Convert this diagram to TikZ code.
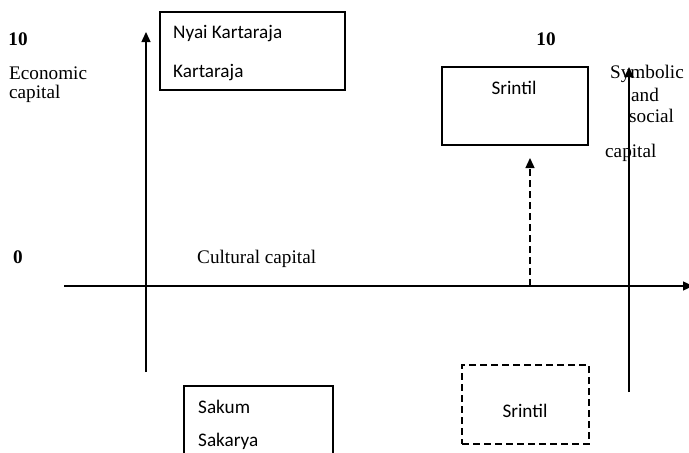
\documentclass[tikz,border=0pt]{standalone}
\usepackage{fontspec}
\setmainfont{Liberation Serif}
\newfontfamily\boxfont{Carlito}
\usetikzlibrary{arrows.meta}
\begin{document}
\begin{tikzpicture}[x=1pt,y=-1pt,
  txt/.style={font=\fontsize{19.2}{23}\selectfont, inner sep=0pt},
  boldtxt/.style={font=\fontsize{19.2}{23}\selectfont\bfseries, inner sep=0pt},
  sans/.style={font=\fontsize{19.2}{23}\selectfont\boxfont, inner sep=0pt},
  axis/.style={line width=1.3pt, -{Triangle[length=10pt,width=9pt]}},
  plainbox/.style={draw, line width=1.2pt, inner sep=0pt},
  dashbox/.style={draw, line width=1.3pt, dash pattern=on 7pt off 4pt, inner sep=0pt},
  dasharrow/.style={line width=1.3pt, dash pattern=on 7pt off 4pt, -{Triangle[length=10pt,width=9pt]}}
]
\useasboundingbox (0,0) rectangle (689,453);
\clip (0,0) rectangle (689,453);

% axes
\coordinate (cultS) at (64,286);
\coordinate (cultE) at (693,286);
\draw[axis] (cultS) -- (cultE);
\coordinate (ecoS) at (146,372);
\coordinate (ecoE) at (146,32);
\draw[axis] (ecoS) -- (ecoE);
\coordinate (symS) at (629,392);
\coordinate (symE) at (629,67);
\draw[axis] (symS) -- (symE);

% axis labels
\node[boldtxt, anchor=base] (ten1) at (18,45) {10};
\node[txt, anchor=base west] (eco1) at (9,79) {Economic};
\node[txt, anchor=base west] (eco2) at (9,98) {capital};
\node[boldtxt, anchor=base] (ten2) at (546,45) {10};
\node[boldtxt, anchor=base] (zero) at (18,263) {0};
\node[txt, anchor=base west] (cult) at (197,263) {Cultural capital};
\node[txt, anchor=base west] (sym1) at (610,78) {Symbolic};
\node[txt, anchor=base west] (sym2) at (631,101) {and};
\node[txt, anchor=base west] (sym3) at (629,122) {social};
\node[txt, anchor=base west] (sym4) at (605,157) {capital};

% upper left box
\node[plainbox, minimum width=185, minimum height=78] (kbox) at (252.5,51) {};
\node[sans, anchor=base west] (nyai) at (173,38) {Nyai Kartaraja};
\node[sans, anchor=base west] (karta) at (173,77) {Kartaraja};

% upper right box
\node[plainbox, minimum width=146, minimum height=78] (sbox) at (515,106) {};
\node[sans, anchor=base] (srin1) at (514,94) {Srintil};

% lower left box, running off the bottom edge
\node[plainbox, minimum width=149, minimum height=84] (lbox) at (258.5,428) {};
\node[sans, anchor=base west] (sakum) at (198,413) {Sakum};
\node[sans, anchor=base west] (sakarya) at (198,446) {Sakarya};

% lower right dashed box
\node[dashbox, minimum width=127, minimum height=79] (dbox) at (525.5,404.5) {};
\node[sans, anchor=base] (srin2) at (525,417) {Srintil};

% dashed arrow up towards the upper Srintil box
\coordinate (dS) at (530,286);
\coordinate (dE) at (530,158);
\draw[dasharrow] (dS) -- (dE);
\end{tikzpicture}
\end{document}
